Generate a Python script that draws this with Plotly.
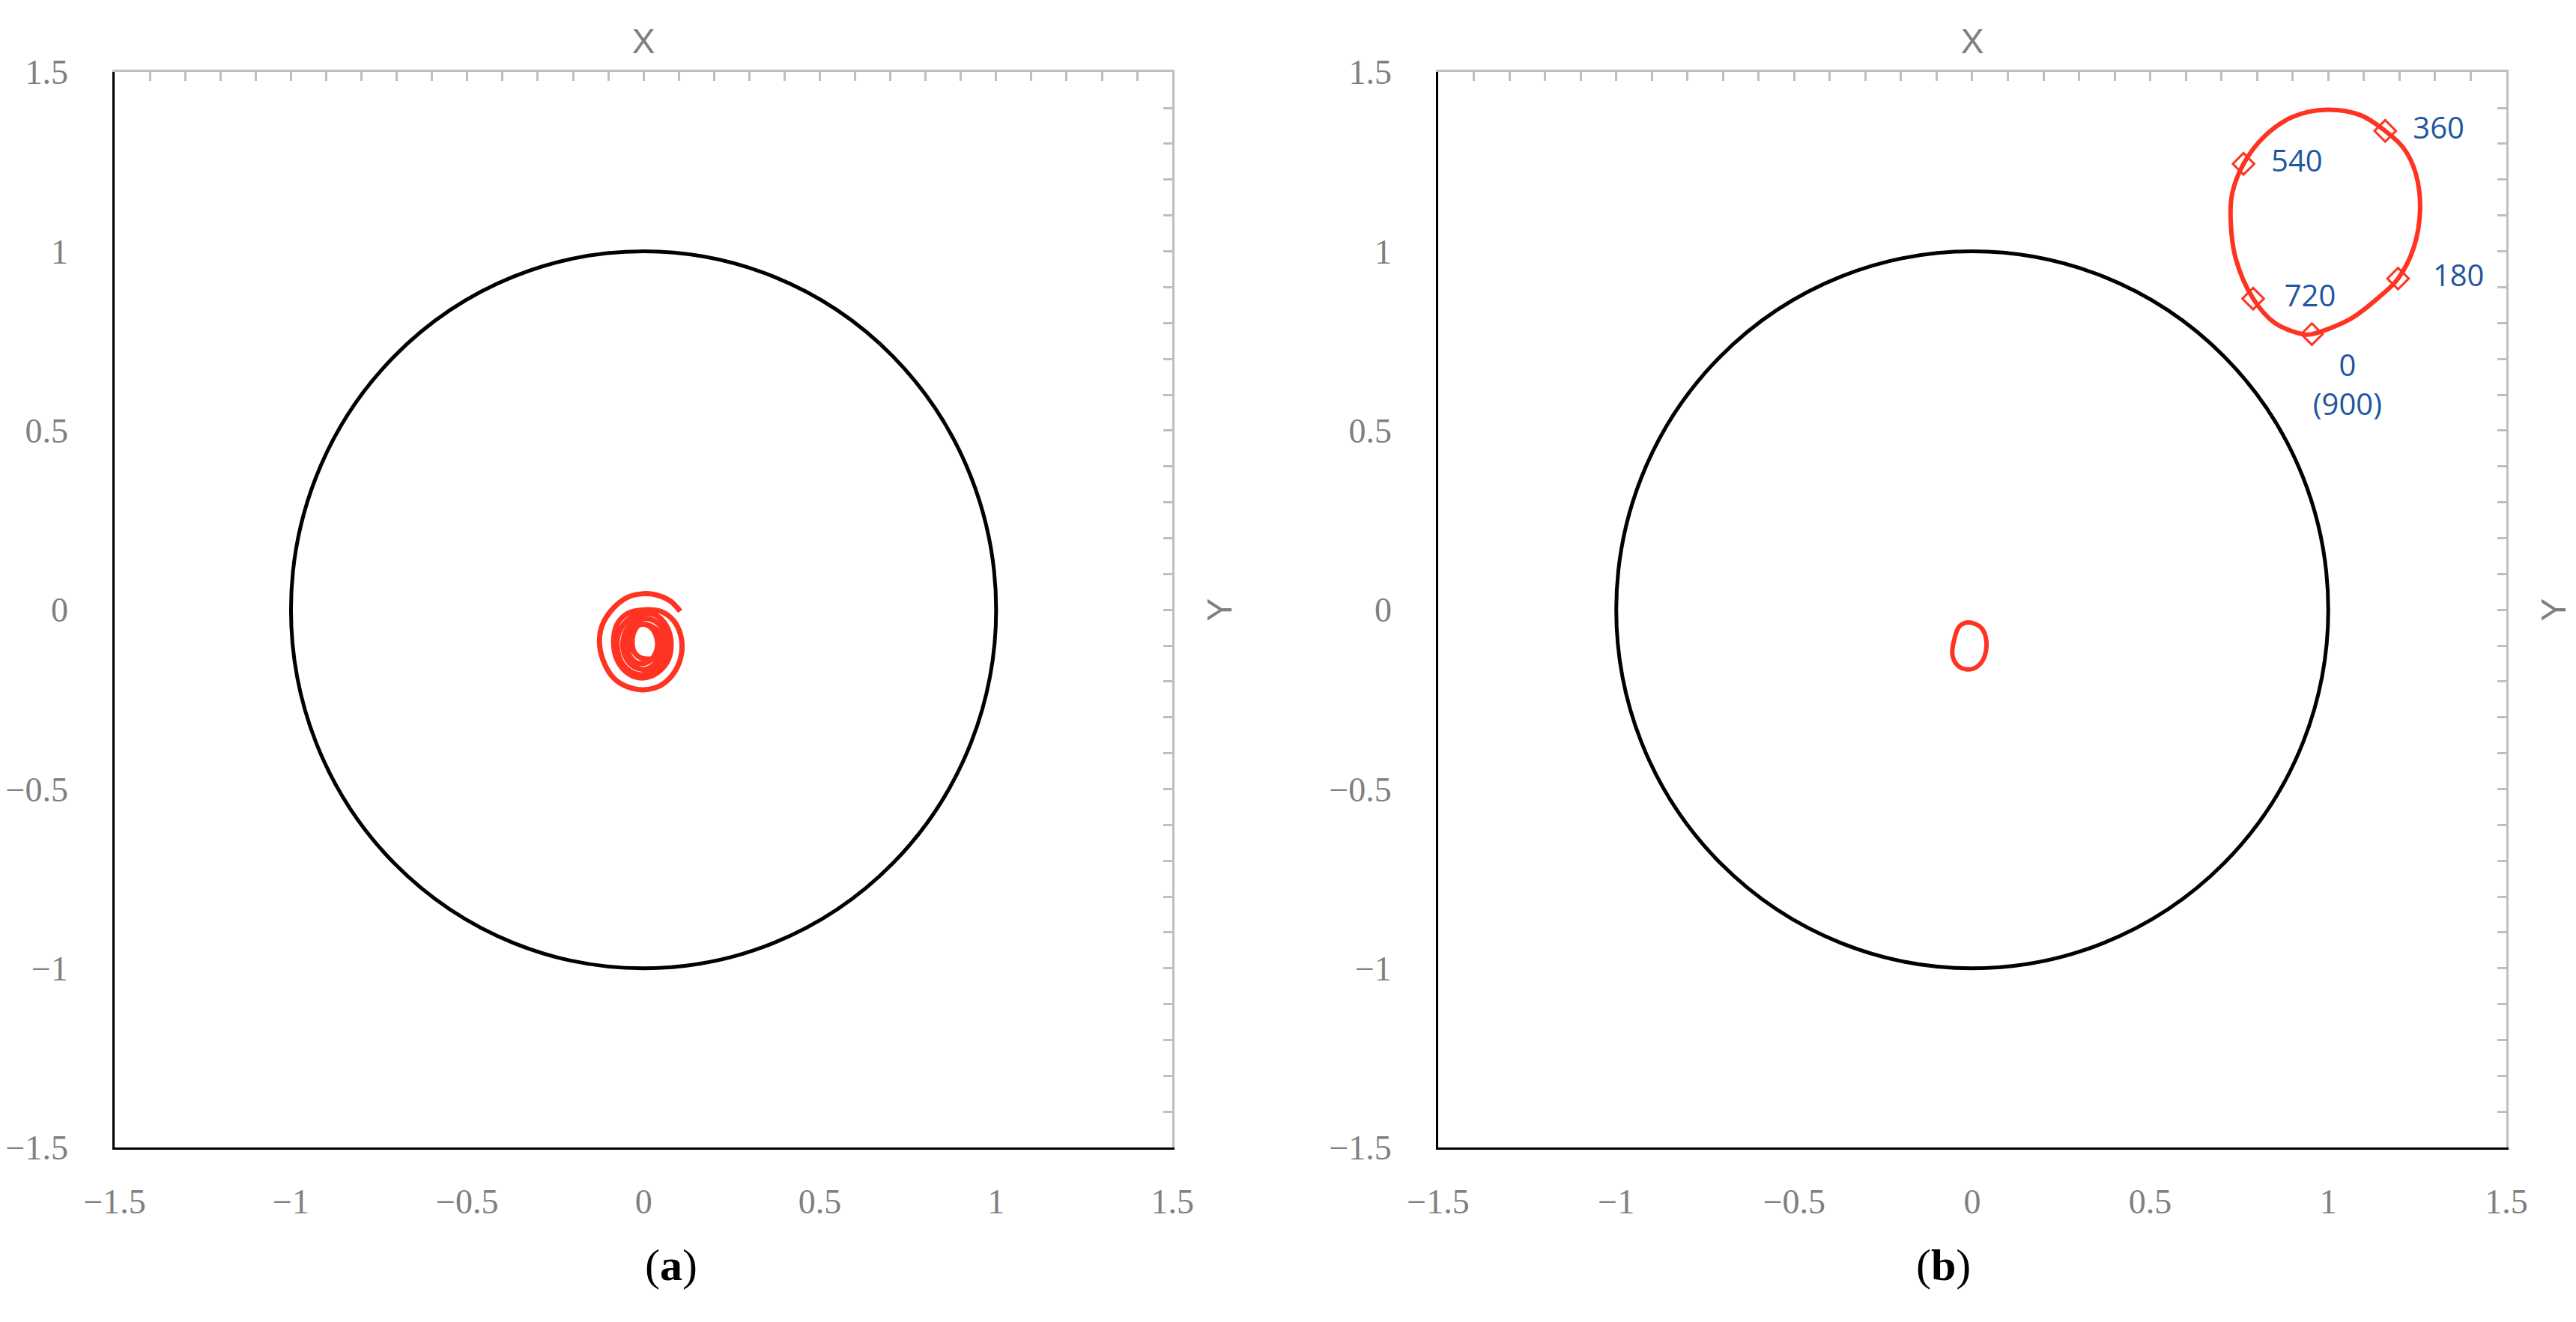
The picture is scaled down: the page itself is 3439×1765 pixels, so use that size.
import plotly.graph_objects as go

# Panel (a): spiral trajectory
a_x = [0.104,0.075,0.035,0.0,-0.045,-0.09,-0.118,-0.125,-0.115,-0.085,-0.045,0.0,0.05,0.09,0.108,0.105,0.085,0.05,0.0,
       -0.045,-0.075,-0.085,-0.075,-0.04,0.0,0.04,0.07,0.078,0.065,0.035,0.0,-0.04,-0.068,-0.075,-0.06,-0.025,0.015,0.05,
       0.065,0.055,0.03,-0.005,-0.04,-0.058,-0.052,-0.025,0.01,0.04,0.052,0.045,0.02,-0.01,-0.035,-0.045,-0.035,-0.01,
       0.02,0.038,0.035,0.015,-0.012,-0.03,-0.028,-0.005,0.03,0.045]
a_y = [-0.004,0.025,0.042,0.045,0.035,0.0,-0.045,-0.09,-0.14,-0.19,-0.215,-0.223,-0.21,-0.17,-0.12,-0.07,-0.03,-0.005,0.0,
       -0.01,-0.04,-0.09,-0.14,-0.18,-0.19,-0.175,-0.14,-0.09,-0.045,-0.015,-0.01,-0.025,-0.06,-0.1,-0.15,-0.178,-0.178,-0.15,
       -0.1,-0.055,-0.03,-0.025,-0.045,-0.085,-0.13,-0.16,-0.165,-0.14,-0.1,-0.065,-0.045,-0.04,-0.055,-0.095,-0.135,-0.15,
       -0.14,-0.11,-0.07,-0.045,-0.042,-0.07,-0.115,-0.135,-0.135,-0.12]

# Panel (b): small inner loop and outer loop
b_small_x = [-0.01,0.025,0.04,0.03,0.0,-0.035,-0.055,-0.05,-0.035,-0.01]
b_small_y = [-0.035,-0.05,-0.09,-0.14,-0.165,-0.16,-0.13,-0.08,-0.045,-0.035]
b_loop_x = [0.954,1.06,1.14,1.196,1.24,1.258,1.245,1.21,1.16,1.09,0.996,0.9,0.82,0.762,0.73,0.726,0.74,0.789,0.85,0.933,0.954]
b_loop_y = [0.769,0.81,0.87,0.924,1.01,1.12,1.22,1.29,1.336,1.38,1.395,1.375,1.32,1.244,1.16,1.084,0.98,0.868,0.8,0.768,0.769]
mark_labels = ["0<br>(900)", "180", "360", "540", "720"]
mark_x = [0.954, 1.196, 1.16, 0.762, 0.789]
mark_y = [0.769, 0.924, 1.336, 1.244, 0.868]
label_dx = [0.1, 0.17, 0.15, 0.15, 0.16]
label_dy = [-0.15, 0.0, 0.0, 0.0, 0.0]

tick_vals = [-1.5, -1, -0.5, 0, 0.5, 1, 1.5]
tick_text = ["\u22121.5", "\u22121", "\u22120.5", "0", "0.5", "1", "1.5"]

RED = "#ff3322"
BLUE = "#1f569e"
GRAY = "#7f7f7f"
LGRAY = "#bfbfbf"

fig = go.Figure()
fig.add_trace(go.Scatter(x=a_x, y=a_y, mode="lines", line=dict(color=RED, width=7, shape="spline"),
                         xaxis="x", yaxis="y", showlegend=False))
fig.add_trace(go.Scatter(x=b_small_x, y=b_small_y, mode="lines", line=dict(color=RED, width=6, shape="spline"),
                         xaxis="x3", yaxis="y3", showlegend=False))
fig.add_trace(go.Scatter(x=b_loop_x, y=b_loop_y, mode="lines", line=dict(color=RED, width=6, shape="spline"),
                         xaxis="x3", yaxis="y3", showlegend=False))
fig.add_trace(go.Scatter(x=mark_x, y=mark_y, mode="markers",
                         marker=dict(symbol="diamond-open", size=22, color=RED, line=dict(width=3, color=RED)),
                         xaxis="x3", yaxis="y3", showlegend=False))
fig.add_trace(go.Scatter(x=[mx + d for mx, d in zip(mark_x, label_dx)],
                         y=[my + d for my, d in zip(mark_y, label_dy)],
                         mode="text", text=mark_labels,
                         textfont=dict(family="Open Sans, Lato", size=40, color=BLUE),
                         xaxis="x3", yaxis="y3", showlegend=False))

ya = [0.1365, 0.950]
doms = {"a": [0.0422, 0.4528], "b": [0.556, 0.9706]}
TICKFONT = dict(family="Liberation Serif", size=46, color=GRAY)

def main_x(dom, anchor):
    return dict(domain=dom, range=[-1.5, 1.5], anchor=anchor, showgrid=False, zeroline=False, automargin=False,
                showline=True, linecolor="black", linewidth=3, ticks="", tickvals=tick_vals, ticktext=tick_text,
                tickfont=TICKFONT, ticklabelstandoff=30)

def main_y(dom, anchor):
    return dict(domain=dom, range=[-1.5, 1.5], anchor=anchor, showgrid=False, zeroline=False, automargin=False,
                showline=True, linecolor="black", linewidth=3, ticks="", tickvals=tick_vals, ticktext=tick_text,
                tickfont=TICKFONT, ticklabelstandoff=50)

def top_x(over, anchor):
    return dict(overlaying=over, side="top", anchor=anchor, range=[-1.5, 1.5], showgrid=False, zeroline=False,
                automargin=False,
                showline=True, linecolor=LGRAY, linewidth=3, ticks="inside", ticklen=12, tickwidth=3,
                tickcolor=LGRAY, dtick=0.1, tick0=-1.5, showticklabels=False,
                title=dict(text="X", font=dict(family="Liberation Sans", size=46, color=GRAY), standoff=8))

def right_y(over, anchor):
    return dict(overlaying=over, side="right", anchor=anchor, range=[-1.5, 1.5], showgrid=False, zeroline=False,
                automargin=False,
                showline=True, linecolor=LGRAY, linewidth=3, ticks="inside", ticklen=12, tickwidth=3,
                tickcolor=LGRAY, dtick=0.1, tick0=-1.5, showticklabels=False,
                title=dict(text="Y", font=dict(family="Liberation Sans", size=46, color=GRAY), standoff=45))

fig.update_layout(
    width=3439, height=1765, margin=dict(l=0, r=0, t=0, b=0),
    paper_bgcolor="white", plot_bgcolor="white",
    xaxis=main_x(doms["a"], "y"), yaxis=main_y(ya, "x"),
    xaxis2=top_x("x", "y"), yaxis2=right_y("y", "x"),
    xaxis3=main_x(doms["b"], "y3"), yaxis3=main_y(ya, "x3"),
    xaxis4=top_x("x3", "y3"), yaxis4=right_y("y3", "x3"),
    shapes=[
        dict(type="circle", xref="x", yref="y", x0=-1, x1=1, y0=-1, y1=1, line=dict(color="black", width=5)),
        dict(type="circle", xref="x3", yref="y3", x0=-1, x1=1, y0=-1, y1=1, line=dict(color="black", width=5)),
    ],
    annotations=[
        dict(text="(<b>a</b>)", x=sum(doms["a"]) / 2, y=0.028, xref="paper", yref="paper", showarrow=False,
             font=dict(family="Liberation Serif", size=60, color="black")),
        dict(text="(<b>b</b>)", x=sum(doms["b"]) / 2, y=0.028, xref="paper", yref="paper", showarrow=False,
             font=dict(family="Liberation Serif", size=60, color="black")),
    ],
)
# invisible traces to activate overlay axes
fig.add_trace(go.Scatter(x=[None], y=[None], xaxis="x2", yaxis="y2", showlegend=False))
fig.add_trace(go.Scatter(x=[None], y=[None], xaxis="x4", yaxis="y4", showlegend=False))

fig.write_html("out.html")
